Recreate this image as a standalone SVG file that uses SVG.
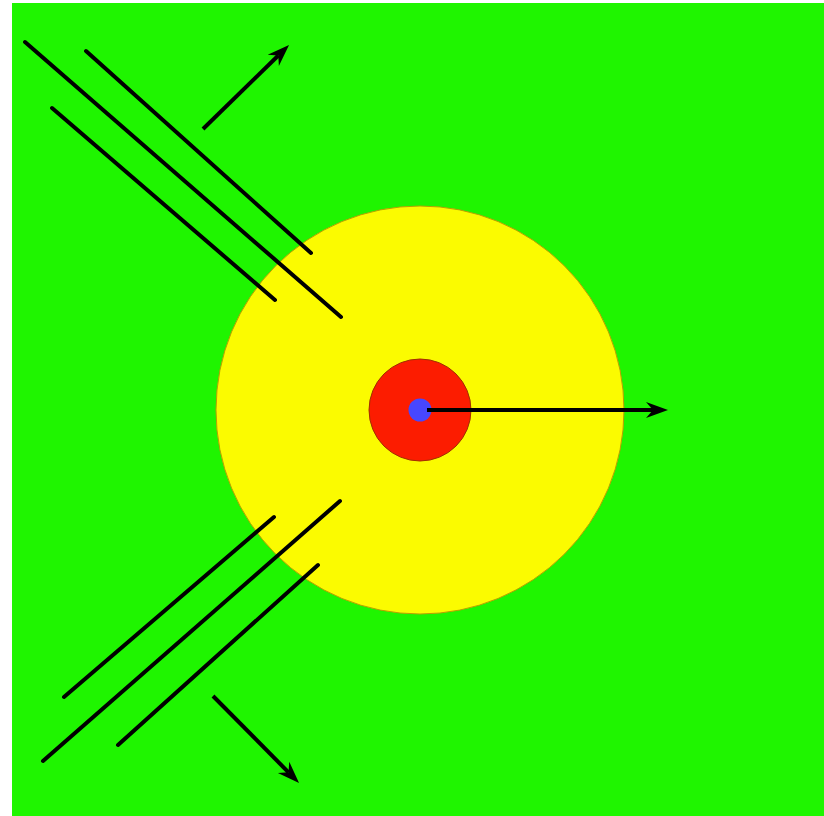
<svg xmlns="http://www.w3.org/2000/svg" width="824" height="816" viewBox="0 0 824 816">
<style>
.ln{stroke:#000;stroke-width:4;stroke-linecap:round;fill:none}
.ar{stroke:#000;stroke-width:4;fill:none;marker-end:url(#ah)}
</style>
<defs>
<marker id="ah" markerUnits="userSpaceOnUse" markerWidth="24" markerHeight="18" refX="7" refY="8" orient="auto" viewBox="0 0 24 16">
<path d="M0,0 L22,8 L0,16 L7,8 z" fill="#000"/>
</marker>
</defs>
<rect x="0" y="0" width="824" height="816" fill="#fff"/>
<rect id="bg" x="12" y="3" width="812" height="813" fill="#1ff500"/>
<g id="outer"><circle cx="420" cy="410" r="204" fill="#fbfb00" stroke="#b8a000" stroke-width="1"/></g>
<g id="lines">
<line class="ln" x1="25" y1="42" x2="341" y2="317"/>
<line class="ln" x1="86" y1="51" x2="311" y2="253"/>
<line class="ln" x1="52" y1="108" x2="275" y2="300"/>
<line class="ln" x1="274" y1="517" x2="64" y2="697"/>
<line class="ln" x1="340" y1="501" x2="43" y2="761"/>
<line class="ln" x1="318" y1="565" x2="118" y2="745"/>
</g>
<g id="inner"><circle cx="420" cy="410" r="51" fill="#fc1c00" stroke="#a03000" stroke-width="1"/></g>
<g id="core"><circle cx="420" cy="410" r="11.5" fill="#4747ff"/></g>
<g id="connectors">
<line class="ar" x1="203" y1="129" x2="278.3" y2="55.5"/>
<line class="ar" x1="213" y1="696" x2="288.5" y2="772.3"/>
<line class="ar" x1="427" y1="410" x2="653" y2="410"/>
</g>
</svg>
